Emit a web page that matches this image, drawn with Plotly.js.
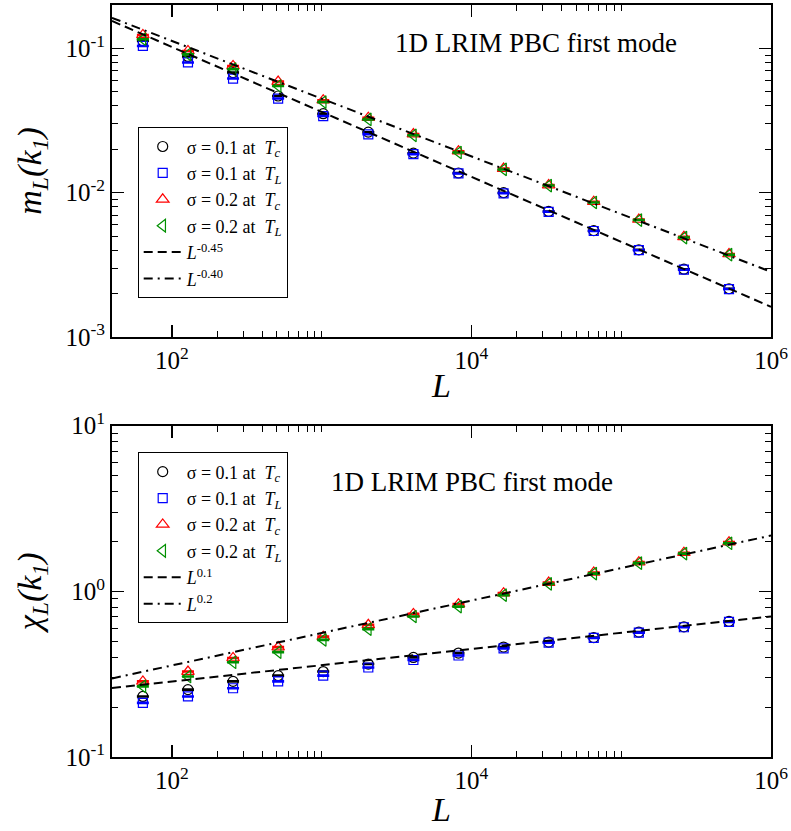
<!DOCTYPE html>
<html>
<head>
<meta charset="utf-8">
<script src="https://cdn.plot.ly/plotly-3.0.1.min.js"></script>
<style>html,body{margin:0;padding:0;background:#fff}#chart{width:791px;height:831px}</style>
</head>
<body>
<div id="chart"></div>
<script>
// System sizes L
const L = [64, 128, 256, 512, 1024, 2048, 4096, 8192, 16384, 32768, 65536, 131072, 262144, 524288];

// Top panel: m_L(k_1)
const mS01Tc = [0.113, 0.088, 0.068, 0.0468, 0.0353, 0.0263, 0.0188, 0.0137, 0.0100, 0.00742, 0.00546, 0.00402, 0.00295, 0.00216];
const mS01TL = [0.104, 0.080, 0.0618, 0.0449, 0.0340, 0.0254, 0.0185, 0.0136, 0.0099, 0.00737, 0.00543, 0.00400, 0.00293, 0.00215];
const mS02Tc = [0.124, 0.096, 0.0757, 0.0589, 0.0438, 0.0331, 0.0255, 0.0194, 0.0147, 0.0113, 0.00866, 0.00652, 0.00495, 0.00376];
const mS02TL = [0.116, 0.091, 0.0718, 0.0549, 0.0425, 0.0322, 0.0250, 0.0190, 0.0145, 0.0112, 0.00856, 0.00646, 0.00489, 0.00372];

// Bottom panel: chi_L(k_1)
const chiS01Tc = [0.232, 0.255, 0.286, 0.310, 0.328, 0.364, 0.399, 0.424, 0.461, 0.494, 0.526, 0.567, 0.611, 0.658];
const chiS01TL = [0.212, 0.232, 0.260, 0.286, 0.310, 0.347, 0.385, 0.410, 0.452, 0.490, 0.523, 0.563, 0.607, 0.654];
const chiS02Tc = [0.286, 0.328, 0.396, 0.461, 0.533, 0.628, 0.731, 0.837, 0.975, 1.13, 1.30, 1.50, 1.71, 1.98];
const chiS02TL = [0.267, 0.306, 0.373, 0.430, 0.509, 0.591, 0.705, 0.809, 0.948, 1.11, 1.28, 1.48, 1.69, 1.95];

// Power-law guide lines (end points)
const fitL = [39.8, 1e6];
const fitM045 = [0.155, 0.00162];
const fitM040 = [0.163, 0.00283];
const fitChi01 = [0.261, 0.705];
const fitChi02 = [0.298, 2.17];

// Tick labels
const xTickVals = [1e2, 1e4, 1e6];
const xTickText = ['10<sup>2</sup>', '10<sup>4</sup>', '10<sup>6</sup>'];
const xMinorVals = [200, 300, 400, 500, 600, 700, 800, 900, 1000, 20000, 30000, 40000, 50000, 60000, 70000, 80000, 90000, 100000];
const yTopTickVals = [1e-3, 1e-2, 1e-1];
const yTopTickText = ['10<sup>-3</sup>', '10<sup>-2</sup>', '10<sup>-1</sup>'];
const yTopMinor = [0.002,0.003,0.004,0.005,0.006,0.007,0.008,0.009,0.02,0.03,0.04,0.05,0.06,0.07,0.08,0.09,0.2];
const yBotTickVals = [0.1, 1, 10];
const yBotTickText = ['10<sup>-1</sup>', '10<sup>0</sup>', '10<sup>1</sup>'];
const yBotMinor = [0.2,0.3,0.4,0.5,0.6,0.7,0.8,0.9,2,3,4,5,6,7,8,9];

const labels = [
  '\u03c3 = 0.1 at\u00a0 <i>T</i><sub><i>c</i></sub>',
  '\u03c3 = 0.1 at\u00a0 <i>T</i><sub><i>L</i></sub>',
  '\u03c3 = 0.2 at\u00a0 <i>T</i><sub><i>c</i></sub>',
  '\u03c3 = 0.2 at\u00a0 <i>T</i><sub><i>L</i></sub>'
];
const colors = ['#000000', '#0000ff', '#ff0000', '#009000'];
const symbols = ['circle-open', 'square-open', 'triangle-up-open', 'triangle-left-open'];
const sizes = [10, 9, 11, 11];

const SERIF = 'Liberation Serif';

function markerTrace(y, i, xa, ya, leg) {
  return {
    x: L, y: y, type: 'scatter', mode: 'markers', name: labels[i],
    xaxis: xa, yaxis: ya, legend: leg,
    marker: {symbol: symbols[i], size: sizes[i], color: colors[i], line: {width: 1.2, color: colors[i]}},
    error_y: {type: 'percent', value: 0.8, width: 6, thickness: 1.5, color: colors[i]}
  };
}
function lineTrace(x, y, name, dash, xa, ya, leg) {
  return {
    x: x, y: y, type: 'scatter', mode: 'lines', name: name,
    xaxis: xa, yaxis: ya, legend: leg,
    line: {color: '#000', width: 2, dash: dash}
  };
}

const data = [
  markerTrace(mS01Tc, 0, 'x', 'y', 'legend'),
  markerTrace(mS01TL, 1, 'x', 'y', 'legend'),
  markerTrace(mS02Tc, 2, 'x', 'y', 'legend'),
  markerTrace(mS02TL, 3, 'x', 'y', 'legend'),
  lineTrace(fitL, fitM045, '<i>L</i><sup>-0.45</sup>', '9px,5px', 'x', 'y', 'legend'),
  lineTrace(fitL, fitM040, '<i>L</i><sup>-0.40</sup>', '9px,5px,2px,5px', 'x', 'y', 'legend'),
  markerTrace(chiS01Tc, 0, 'x2', 'y2', 'legend2'),
  markerTrace(chiS01TL, 1, 'x2', 'y2', 'legend2'),
  markerTrace(chiS02Tc, 2, 'x2', 'y2', 'legend2'),
  markerTrace(chiS02TL, 3, 'x2', 'y2', 'legend2'),
  lineTrace(fitL, fitChi01, '<i>L</i><sup>0.1</sup>', '9px,5px', 'x2', 'y2', 'legend2'),
  lineTrace(fitL, fitChi02, '<i>L</i><sup>0.2</sup>', '9px,5px,2px,5px', 'x2', 'y2', 'legend2')
];

function axisBase() {
  return {
    type: 'log', showline: true, linewidth: 2, linecolor: '#000', mirror: 'ticks',
    ticks: 'inside', ticklen: 12, tickwidth: 1.5, tickcolor: '#000',
    showgrid: false, zeroline: false, automargin: false,
    tickfont: {family: SERIF, size: 25, color: '#000'},
    tickmode: 'array'
  };
}
const minorBase = {ticks: 'inside', ticklen: 6, tickwidth: 1, tickcolor: '#000', showgrid: false, tickmode: 'array'};

const xa = Object.assign(axisBase(), {
  range: [1.6, 6], anchor: 'y', tickvals: xTickVals, ticktext: xTickText,
  minor: Object.assign({}, minorBase, {tickvals: xMinorVals}),
  title: {text: '<i>L</i>', font: {family: SERIF, size: 34, color: '#000'}, standoff: 0}
});
const xa2 = Object.assign(axisBase(), {
  range: [1.6, 6], anchor: 'y2', tickvals: xTickVals, ticktext: xTickText,
  minor: Object.assign({}, minorBase, {tickvals: xMinorVals}),
  title: {text: '<i>L</i>', font: {family: SERIF, size: 34, color: '#000'}, standoff: 4}
});
const ya = Object.assign(axisBase(), {
  range: [-3, -0.699], domain: [0.5585, 1], anchor: 'x',
  tickvals: yTopTickVals, ticktext: yTopTickText,
  minor: Object.assign({}, minorBase, {tickvals: yTopMinor}),
  title: {text: '<i>m</i><sub><i>L</i></sub><i>(k</i><sub><i>1</i></sub><i>)</i>', font: {family: SERIF, size: 34, color: '#000'}, standoff: 14}
});
const ya2 = Object.assign(axisBase(), {
  range: [-1, 1], domain: [0, 0.4406], anchor: 'x2',
  tickvals: yBotTickVals, ticktext: yBotTickText,
  minor: Object.assign({}, minorBase, {tickvals: yBotMinor}),
  title: {text: '<i>\u03c7</i><sub><i>L</i></sub><i>(k</i><sub><i>1</i></sub><i>)</i>', font: {family: SERIF, size: 34, color: '#000'}, standoff: 14}
});

const legendBase = {
  xanchor: 'left', yanchor: 'top', bgcolor: '#fff', bordercolor: '#000', borderwidth: 1,
  font: {family: SERIF, size: 18, color: '#000'}, itemclick: false, itemwidth: 38
};

const layout = {
  width: 791, height: 831,
  margin: {l: 112, r: 20, t: 5, b: 74},
  paper_bgcolor: '#fff', plot_bgcolor: '#fff',
  font: {family: SERIF, color: '#000'},
  showlegend: true,
  xaxis: xa, yaxis: ya, xaxis2: xa2, yaxis2: ya2,
  legend: Object.assign({}, legendBase, {x: 0.039, y: 0.8374}),
  legend2: Object.assign({}, legendBase, {x: 0.039, y: 0.405}),
  annotations: [
    {text: '1D LRIM PBC first mode', xref: 'paper', yref: 'paper', x: 0.6434, y: 0.9495,
     xanchor: 'center', yanchor: 'middle', showarrow: false, font: {family: SERIF, size: 27, color: '#000'}},
    {text: '1D LRIM PBC first mode', xref: 'paper', yref: 'paper', x: 0.547, y: 0.3661,
     xanchor: 'center', yanchor: 'middle', showarrow: false, font: {family: SERIF, size: 27, color: '#000'}}
  ]
};

Plotly.newPlot('chart', data, layout, {displayModeBar: false, staticPlot: true});
</script>
</body>
</html>
